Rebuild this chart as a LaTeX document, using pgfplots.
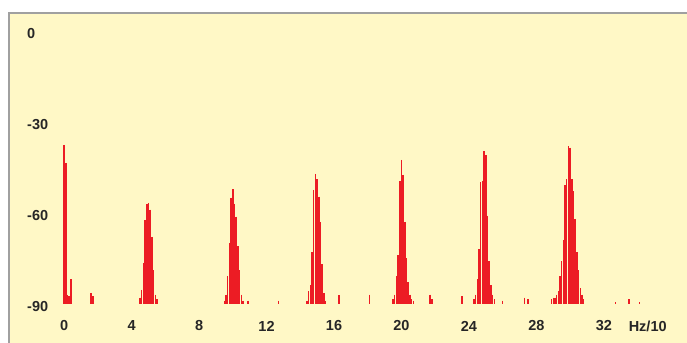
\documentclass[border=0pt]{standalone}
\usepackage{pgfplots}
\pgfplotsset{compat=1.18}
\usepackage{pgfplotstable}
\usepackage{fontspec}
\setmainfont{Liberation Sans}
\definecolor{panel}{RGB}{255,248,198}
\definecolor{barred}{RGB}{236,28,36}
\definecolor{frame}{RGB}{160,160,160}
\pgfplotstableread{
x y
0.0 -36.6
0.1 -42.6
0.2 -86
0.3 -86.5
0.4 -81
1.6 -85.5
1.7 -86.5
4.5 -87
4.6 -84.5
4.7 -75.6
4.8 -61.4
4.9 -56
5.0 -55.8
5.1 -58
5.2 -67
5.3 -78
5.4 -86
5.5 -87.5
9.5 -88
9.6 -86
9.7 -80
9.8 -69
9.9 -54
10.0 -51.2
10.1 -56
10.2 -60.3
10.3 -70
10.4 -78
10.5 -86
10.6 -88
10.9 -88
12.7 -88
14.4 -88
14.5 -85
14.6 -83
14.7 -72
14.8 -51.5
14.9 -46.2
15.0 -48
15.1 -53.7
15.2 -62
15.3 -76
15.4 -85.5
15.5 -88
16.3 -86.3
18.1 -86
19.5 -87.5
19.6 -86
19.7 -80
19.8 -73
19.9 -48.5
20.0 -41.6
20.1 -46.5
20.2 -62
20.3 -74
20.4 -82
20.5 -86
20.6 -87.5
20.7 -88
21.7 -86
21.8 -87.5
23.6 -86.5
24.3 -87.5
24.4 -86
24.5 -81
24.6 -71
24.7 -49
24.8 -48.5
24.9 -38.6
25.0 -40
25.1 -60
25.2 -75
25.3 -83
25.4 -86
25.5 -87.5
26.0 -88
27.3 -87
27.5 -87.5
28.9 -87.5
29.0 -87
29.1 -87
29.2 -86
29.3 -85
29.4 -80
29.5 -75
29.6 -68
29.7 -50
29.8 -48
29.9 -37
30.0 -37.5
30.1 -48
30.2 -52
30.3 -61
30.4 -72
30.5 -78
30.6 -84
30.7 -86
30.8 -87.5
32.7 -88.5
33.5 -87.5
34.1 -88.5
}\spectrum
\begin{document}
\begin{tikzpicture}
\begin{axis}[
  scale only axis,
  width=678bp, height=330bp,
  xmin=-3.27, xmax=36.93,
  ymin=-102, ymax=6.9,
  axis background/.style={fill=panel},
  axis line style={draw=none},
  major tick length=0pt,
  xtick={0,4,8,12,16,20,24,28,32,34.6},
  xticklabels={0,4,8,12,16,20,24,28,32,Hz/10},
  ytick={-90,-60,-30,0},
  yticklabels={-90,-60,-30,0},
  tick label style={font=\fontsize{14.5bp}{17bp}\selectfont\bfseries, text=black!85, inner sep=0pt},
  xticklabel style={anchor=center, yshift=17bp},
  yticklabel style={anchor=west, xshift=18bp},
  clip=false,
]
\addplot[draw=none, mark=none,
  error bars/.cd, y dir=minus, y explicit, error mark=none,
  error bar style={draw=barred, line width=1.45bp}]
  table[x=x, y=y, y error expr=\thisrow{y}+89] {\spectrum};
\end{axis}
\draw[frame, line width=1.2bp] (current axis.south west) -- (current axis.north west) -- (current axis.north east);
\pgfresetboundingbox
\path ([xshift=-9bp]current axis.south west) rectangle ([yshift=13bp]current axis.north east);
\end{tikzpicture}
\end{document}
